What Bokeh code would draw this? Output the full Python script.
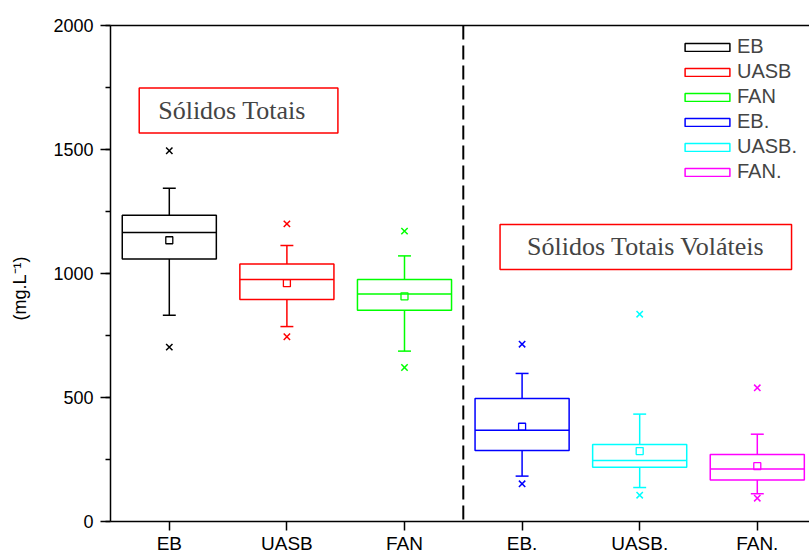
from bokeh.plotting import figure
from bokeh.models import (FixedTicker, SingleIntervalTicker, LinearAxis, Span, Label,
                          ColumnDataSource, Range1d)
from bokeh.embed import file_html
from bokeh.resources import INLINE

categories = ["EB", "UASB", "FAN", "EB.", "UASB.", "FAN."]
colors = ["#000000", "#ff0000", "#00ff00", "#0000ff", "#00ffff", "#ff00ff"]
lower_whisker = [832, 786, 687, 183, 137, 112]
q1 = [1058, 895, 852, 286, 219, 167]
median = [1165, 976, 917, 368, 246, 212]
q3 = [1235, 1038, 976, 496, 310, 270]
upper_whisker = [1344, 1113, 1071, 597, 433, 352]
mean = [1134, 961, 908, 382, 284, 223]
outlier_high = [1495, 1200, 1171, 715, 836, 539]
outlier_low = [703, 745, 621, 152, 106, 94]

positions = list(range(1, len(categories) + 1))
BOX_W = 0.8
CAP_W = 0.11

src = ColumnDataSource(dict(
    x=positions, cat=categories, color=colors,
    lw=lower_whisker, q1=q1, med=median, q3=q3, uw=upper_whisker, mean=mean,
    oh=outlier_high, ol=outlier_low,
    bx0=[v - BOX_W / 2 for v in positions], bx1=[v + BOX_W / 2 for v in positions],
    cx0=[v - CAP_W / 2 for v in positions], cx1=[v + CAP_W / 2 for v in positions],
))

p = figure(width=809, height=557, x_range=Range1d(0.5, 6.444), y_range=Range1d(0, 2000),
           output_backend="svg", toolbar_location=None,
           min_border_left=110, min_border_right=0, min_border_top=25, min_border_bottom=36)
p.outline_line_color = None
p.xgrid.visible = False
p.ygrid.visible = False
p.background_fill_color = "white"

FONT = "Liberation Sans"
# x axis
xa = p.xaxis[0]
xa.ticker = FixedTicker(ticks=positions)
xa.major_label_overrides = {i: c for i, c in zip(positions, categories)}
xa.minor_tick_line_color = None
xa.major_tick_out = 9
xa.major_tick_in = 0
xa.major_label_standoff = 2
xa.axis_line_width = 1.5
xa.major_tick_line_width = 1.5
xa.major_label_text_font = FONT
xa.major_label_text_font_size = "19px"
xa.major_label_text_color = "black"

# y axis
ya = p.yaxis[0]
ya.ticker = SingleIntervalTicker(interval=500, num_minor_ticks=2)
ya.major_tick_out = 10
ya.major_tick_in = 0
ya.minor_tick_out = 5
ya.minor_tick_in = 0
ya.major_label_standoff = 7
ya.axis_line_width = 1.5
ya.major_tick_line_width = 1.5
ya.minor_tick_line_width = 1.5
ya.major_label_text_font = FONT
ya.major_label_text_font_size = "18px"
ya.major_label_text_color = "black"
ya.axis_label = "(mg.L\u207b\u00b9)" + "\u00a0" * 6
ya.axis_label_text_font = FONT
ya.axis_label_text_font_size = "18px"
ya.axis_label_text_font_style = "normal"
ya.axis_label_text_color = "black"
ya.axis_label_standoff = 20

top = LinearAxis(ticker=FixedTicker(ticks=[]), major_label_text_font_size="0px",
                 major_tick_line_color=None, minor_tick_line_color=None, axis_line_width=1.5)
p.add_layout(top, "above")

# divider
p.add_layout(Span(location=3.5, dimension="height", line_color="black",
                  line_dash="14 6", line_width=2))

# boxes
p.vbar(x="x", width=BOX_W, bottom="q1", top="q3", fill_color=None, line_color="color",
       line_width=1.5, source=src, legend_field="cat")
p.segment(x0="bx0", x1="bx1", y0="med", y1="med", line_color="color", line_width=1.5, source=src)
p.segment(x0="x", x1="x", y0="q3", y1="uw", line_color="color", line_width=1.5, source=src)
p.segment(x0="x", x1="x", y0="q1", y1="lw", line_color="color", line_width=1.5, source=src)
p.segment(x0="cx0", x1="cx1", y0="uw", y1="uw", line_color="color", line_width=1.5, source=src)
p.segment(x0="cx0", x1="cx1", y0="lw", y1="lw", line_color="color", line_width=1.5, source=src)
p.scatter(x="x", y="mean", marker="square", size=7, fill_color=None, line_color="color",
          line_width=1.3, source=src)
p.scatter(x="x", y="oh", marker="x", size=9, line_color="color", line_width=1.5, source=src)
p.scatter(x="x", y="ol", marker="x", size=9, line_color="color", line_width=1.5, source=src)

# annotations
SERIF = "Liberation Serif"
p.add_layout(Label(x=1.589, y=1657, text="S\u00f3lidos   Totais", text_font=SERIF,
                   text_font_size="26px", text_align="center", text_baseline="middle",
                   border_line_color="#ff0000", border_line_width=1.5,
                   background_fill_color="white", padding=(19, 8)))
p.add_layout(Label(x=5.052, y=1107, text="S\u00f3lidos Totais Vol\u00e1teis", text_font=SERIF,
                   text_font_size="26px", text_align="center", text_baseline="middle",
                   border_line_color="#ff0000", border_line_width=1.5,
                   background_fill_color="white", padding=(27, 8)))

# legend
lg = p.legend[0]
lg.location = (569, 338)
lg.orientation = "vertical"
lg.background_fill_alpha = 0
lg.border_line_color = None
lg.padding = 0
lg.margin = 0
lg.glyph_width = 56
lg.glyph_height = 10
lg.label_height = 10
lg.spacing = 2
lg.label_standoff = 2
lg.label_text_font = FONT
lg.label_text_font_size = "20px"

open("out.html", "w").write(file_html(p, INLINE))
